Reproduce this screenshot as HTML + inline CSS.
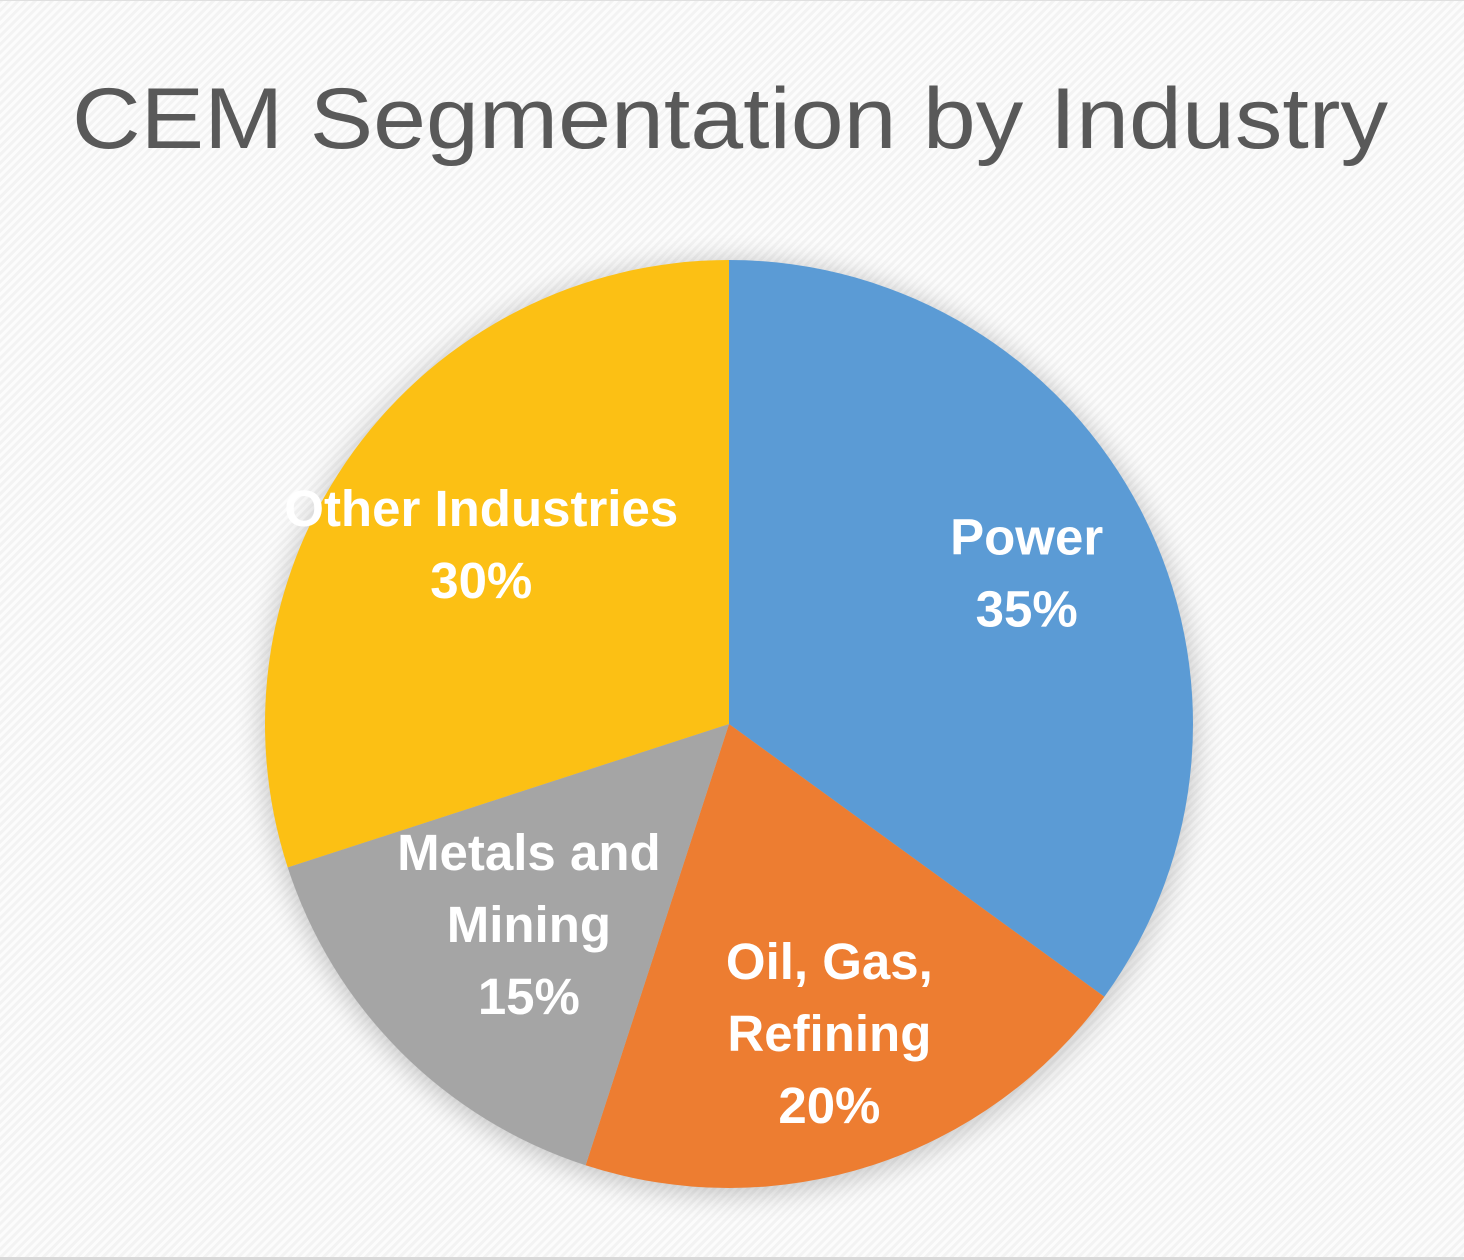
<!DOCTYPE html>
<html><head><meta charset="utf-8"><style>
html,body{margin:0;padding:0;}
body{width:1464px;height:1260px;overflow:hidden;background:#fbfbfb;}
svg{display:block;}
</style></head><body>
<svg id="chart" width="1464" height="1260" xmlns="http://www.w3.org/2000/svg">
<defs>
<pattern id="hatch" width="6" height="6" patternUnits="userSpaceOnUse" patternTransform="rotate(45)">
<rect width="6" height="6" fill="#fcfcfc"/><rect width="3" height="6" fill="#f3f3f3"/>
</pattern>
<filter id="sh" x="-20%" y="-20%" width="140%" height="140%"><feGaussianBlur stdDeviation="14"/></filter>
</defs>
<rect width="1464" height="1260" fill="url(#hatch)"/>
<rect x="0" y="1257" width="1464" height="3" fill="#d9d9d9"/>
<rect x="0" y="0" width="1464" height="1" fill="#e0e0e0"/>
<text x="730" y="148" text-anchor="middle" font-family="Liberation Sans, sans-serif" font-size="86" fill="#595959" textLength="1316" lengthAdjust="spacingAndGlyphs">CEM Segmentation by Industry</text>
<circle cx="729" cy="728" r="466" fill="#000" opacity="0.22" filter="url(#sh)"/>
<g id="slices"></g>
<g id="labels"></g>
</svg>
<script>
const categories = ["Power", "Oil, Gas, Refining", "Metals and Mining", "Other Industries"];
const values = [35, 20, 15, 30];
const colors = ["#5b9bd5", "#ed7d31", "#a5a5a5", "#fcc014"];
const labelLines = [["Power","35%"],["Oil, Gas,","Refining","20%"],["Metals and","Mining","15%"],["Other Industries","30%"]];
const labelRadius = [0.72, 0.70, 0.61, 0.66];
const cx = 729, cy = 724, R = 464;
const NS = "http://www.w3.org/2000/svg";
const total = values.reduce((a,b)=>a+b,0);
const sg = document.getElementById("slices"), lg = document.getElementById("labels");
function pt(a, r){ return [cx + r*Math.sin(a), cy - r*Math.cos(a)]; }
let start = 0;
values.forEach((v,i)=>{
  const sweep = v/total*2*Math.PI, end = start+sweep;
  const [x1,y1]=pt(start,R),[x2,y2]=pt(end,R);
  const p=document.createElementNS(NS,"path");
  p.setAttribute("d",`M${cx},${cy} L${x1},${y1} A${R},${R} 0 ${sweep>Math.PI?1:0} 1 ${x2},${y2} Z`);
  p.setAttribute("fill",colors[i]);
  
  
  sg.appendChild(p);
  const mid=(start+end)/2, [lx,ly]=pt(mid,R*labelRadius[i]);
  const lines=labelLines[i], lh=72;
  const t=document.createElementNS(NS,"text");
  
  
  t.setAttribute("text-anchor","middle");
  t.setAttribute("font-family","Liberation Sans, sans-serif");
  t.setAttribute("font-weight","bold");
  t.setAttribute("font-size","51");
  t.setAttribute("fill","#fff");
  lines.forEach((s,j)=>{
    const ts=document.createElementNS(NS,"tspan");
    ts.setAttribute("x",lx);
    ts.setAttribute("y",ly-(lines.length-1)*lh/2+j*lh+18);
    ts.textContent=s; t.appendChild(ts);
  });
  lg.appendChild(t);
  start=end;
});
</script>
</body></html>
